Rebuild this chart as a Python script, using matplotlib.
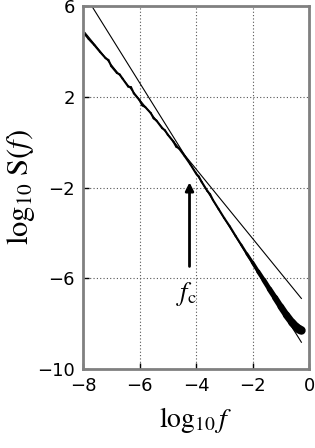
import numpy as np
import matplotlib
matplotlib.use("Agg")
import matplotlib.pyplot as plt
from matplotlib.collections import LineCollection

plt.rcParams['font.family'] = ['DejaVu Sans']
plt.rcParams['mathtext.fontset'] = 'stix'

data_x = [-7.93, -7.8, -7.6, -7.4, -7.2, -7.1, -7.0, -6.8, -6.7, -6.6, -6.4, -6.3,
          -6.2, -6.0, -5.9, -5.8, -5.6, -5.5, -5.4, -5.2, -5.1, -5.0, -4.8, -4.7,
          -4.6, -4.4, -4.2, -4.0, -3.9, -3.8, -3.6, -3.5, -3.4, -3.2, -3.0, -2.8,
          -2.6, -2.4, -2.2, -2.0, -1.8, -1.6, -1.4, -1.2, -1.0, -0.8, -0.6, -0.45,
          -0.35, -0.27]
data_y = [4.75, 4.55, 4.28, 3.98, 3.70, 3.62, 3.35, 3.05, 2.98, 2.80, 2.45, 2.42,
          2.15, 1.85, 1.62, 1.55, 1.28, 1.05, 0.95, 0.62, 0.52, 0.33, 0.02, -0.20,
          -0.28, -0.62, -0.98, -1.38, -1.52, -1.75, -2.15, -2.30, -2.55, -2.95, -3.35, -3.72,
          -4.13, -4.52, -4.92, -5.30, -5.70, -6.08, -6.48, -6.86, -7.25, -7.62, -7.95, -8.15,
          -8.25, -8.30]

# fitted straight lines (end points)
fit_hi_x = [-7.69, -0.27]
fit_hi_y = [6.0, -8.82]
fit_lo_x = [-7.93, -0.27]
fit_lo_y = [4.83, -6.89]

xticks = [-8, -6, -4, -2, 0]
yticks = [-10, -6, -2, 2, 6]

fig = plt.figure(figsize=(3.15, 4.48), dpi=100)
ax = fig.add_axes([0.2635, 0.1763, 0.7175, 0.8103])

ax.plot(fit_hi_x, fit_hi_y, color='black', lw=0.8)
ax.plot(fit_lo_x, fit_lo_y, color='black', lw=0.8)

# data drawn thicker toward high frequency (scatter of the estimate grows)
pts = np.column_stack([data_x, data_y])
segs = np.stack([pts[:-1], pts[1:]], axis=1)
xm = np.array(data_x[:-1])
widths = np.where(xm < -2.5, 1.5, 1.5 + (xm + 2.5) * 2.2)
ax.add_collection(LineCollection(segs, colors='black', linewidths=widths,
                                 capstyle='round', joinstyle='round'))

ax.annotate('', xy=(-4.23, -1.65), xytext=(-4.23, -5.6),
            arrowprops=dict(arrowstyle='-|>', color='black', lw=2,
                            mutation_scale=12))
ax.text(-4.35, -6.7, r'$f_{\mathrm{c}}$', fontsize=19, ha='center', va='center')

ax.set_xlim(-8, 0)
ax.set_ylim(-10, 6)
ax.set_xticks(xticks)
ax.set_yticks(yticks)
ax.set_xticklabels([f'{t:d}'.replace('-', '\u2212') for t in xticks])
ax.set_yticklabels([f'{t:d}'.replace('-', '\u2212') for t in yticks])
ax.tick_params(direction='in', length=4, width=1, labelsize=13, pad=6)
ax.grid(True, color='#555555', linestyle=(0, (1, 2)), lw=0.8)
for s in ax.spines.values():
    s.set_color('#808080')
    s.set_linewidth(2)

ax.set_xlabel(r'$\log_{10} f$', fontsize=20, labelpad=7)
ax.set_ylabel(r'$\log_{10}\,\mathrm{S}(f)$', fontsize=22, labelpad=0)

fig.savefig('out.png', dpi=100)
